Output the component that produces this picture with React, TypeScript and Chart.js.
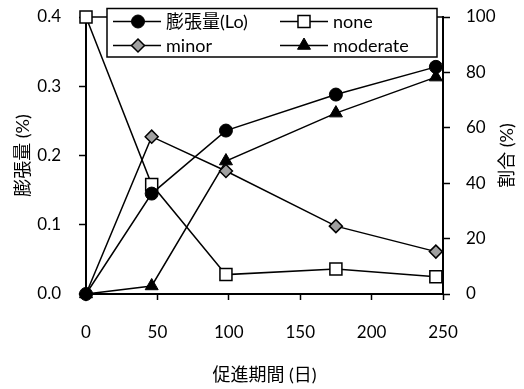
import React, { useEffect, useRef } from 'react';
import { Chart, registerables } from 'chart.js';

Chart.register(...registerables);

// ---- data ----
const days = [0, 46, 98, 175, 245];
const expansion = [0, 0.145, 0.236, 0.288, 0.328];
const noneRatio = [100, 39.5, 7, 9, 6.2];
const minorRatio = [0, 56.8, 44.4, 24.5, 15.3];
const moderateRatio = [0, 2.9, 48, 65.3, 78.3];
const seriesLabels = ['膨張量(Lo)', 'none', 'minor', 'moderate'];
const xTicks = [0, 50, 100, 150, 200, 250];
const leftTicks = [0, 0.1, 0.2, 0.3, 0.4];
const rightTicks = [0, 20, 40, 60, 80, 100];
const xTitle = '促進期間 (日)';
const leftTitle = '膨張量 (%)';
const rightTitle = '割合 (%)';

const FONT = "Lato, 'Noto Sans CJK JP', sans-serif";

function pts(vals: number[]) {
  return days.map((d, i) => ({ x: d, y: vals[i] }));
}

function drawMarker(ctx: CanvasRenderingContext2D, style: string, x: number, y: number, r: number, fill: string, bw: number) {
  ctx.save();
  ctx.fillStyle = fill;
  ctx.strokeStyle = '#000';
  ctx.lineWidth = bw;
  ctx.beginPath();
  if (style === 'circle') {
    ctx.arc(x, y, r, 0, Math.PI * 2);
  } else if (style === 'rect') {
    const s = Math.SQRT1_2 * r;
    ctx.rect(x - s, y - s, 2 * s, 2 * s);
  } else if (style === 'rectRot') {
    ctx.moveTo(x - r, y);
    ctx.lineTo(x, y - r);
    ctx.lineTo(x + r, y);
    ctx.lineTo(x, y + r);
    ctx.closePath();
  } else if (style === 'triangle') {
    const a = -Math.PI / 2;
    ctx.moveTo(x + Math.cos(a) * r, y + Math.sin(a) * r);
    ctx.lineTo(x + Math.cos(a + 2 * Math.PI / 3) * r, y + Math.sin(a + 2 * Math.PI / 3) * r);
    ctx.lineTo(x + Math.cos(a + 4 * Math.PI / 3) * r, y + Math.sin(a + 4 * Math.PI / 3) * r);
    ctx.closePath();
  }
  ctx.fill();
  ctx.stroke();
  ctx.restore();
}

const framePlugin = {
  id: 'frameTop',
  beforeDatasetsDraw(chart: any) {
    const { ctx, chartArea } = chart;
    ctx.save();
    ctx.strokeStyle = '#000';
    ctx.lineWidth = 1.5;
    ctx.beginPath();
    ctx.moveTo(chartArea.left, chartArea.top);
    ctx.lineTo(chartArea.right, chartArea.top);
    ctx.stroke();
    ctx.restore();
  },
};

const legendPlugin = {
  id: 'boxLegend',
  afterDraw(chart: any) {
    const ctx: CanvasRenderingContext2D = chart.ctx;
    ctx.save();
    const bx = 107, by = 8.5, bw = 330, bh = 48.5;
    ctx.fillStyle = '#fff';
    ctx.fillRect(bx, by, bw, bh);
    ctx.strokeStyle = '#000';
    ctx.lineWidth = 1.5;
    ctx.strokeRect(bx, by, bw, bh);
    const cols = [
      { x0: 113, x1: 161, mx: 138, tx: 166 },
      { x0: 280, x1: 328, mx: 304, tx: 333 },
    ];
    const rows = [21.5, 45.5];
    chart.data.datasets.forEach((ds: any, i: number) => {
      const c = cols[i % 2];
      const y = rows[Math.floor(i / 2)];
      ctx.strokeStyle = '#000';
      ctx.lineWidth = 1.5;
      ctx.beginPath();
      ctx.moveTo(c.x0, y);
      ctx.lineTo(c.x1, y);
      ctx.stroke();
      drawMarker(ctx, ds.pointStyle, c.mx, y, ds.pointRadius, ds.pointBackgroundColor, ds.pointBorderWidth);
      ctx.fillStyle = '#000';
      ctx.font = `18px ${FONT}`;
      ctx.textBaseline = 'middle';
      ctx.textAlign = 'left';
      ctx.fillText(ds.label, c.tx, y + 1);
    });
    ctx.restore();
  },
};

const rightTitlePlugin = {
  id: 'rightTitle',
  afterDraw(chart: any) {
    const { ctx, chartArea } = chart;
    ctx.save();
    ctx.translate(507, (chartArea.top + chartArea.bottom) / 2);
    ctx.rotate(-Math.PI / 2);
    ctx.fillStyle = '#000';
    ctx.font = `18px ${FONT}`;
    ctx.textAlign = 'center';
    ctx.textBaseline = 'middle';
    ctx.fillText(rightTitle, 0, 0);
    ctx.restore();
  },
};

export default function App() {
  const ref = useRef<HTMLCanvasElement>(null);
  useEffect(() => {
    if (!ref.current) return;
    Chart.defaults.color = '#000';
    const common = {
      borderColor: '#000',
      borderWidth: 1.5,
      pointBorderColor: '#000',
      pointBorderWidth: 1,
      tension: 0,
      clip: false as any,
    };
    const fitV = (w: number) => (s: any) => { s.width = w; s.paddingTop = 0; s.paddingBottom = 0; };
    const chart = new Chart(ref.current, {
      type: 'line',
      data: {
        datasets: [
          { ...common, label: seriesLabels[0], data: pts(expansion), yAxisID: 'y', pointStyle: 'circle', pointRadius: 6.5, pointBackgroundColor: '#000' },
          { ...common, label: seriesLabels[1], data: pts(noneRatio), yAxisID: 'y1', pointStyle: 'rect', pointRadius: 8.5, pointBackgroundColor: '#fff', pointBorderWidth: 1.5 },
          { ...common, label: seriesLabels[2], data: pts(minorRatio), yAxisID: 'y1', pointStyle: 'rectRot', pointRadius: 6.5, pointBackgroundColor: '#a0a0a0', pointBorderWidth: 1.5 },
          { ...common, label: seriesLabels[3], data: pts(moderateRatio), yAxisID: 'y1', pointStyle: 'triangle', pointRadius: 7.5, pointBackgroundColor: '#000' },
        ] as any,
      },
      options: {
        animation: false,
        responsive: false,
        layout: { padding: { top: 17, left: 0, right: 0, bottom: 0 } },
        plugins: { legend: { display: false }, tooltip: { enabled: false } },
        scales: {
          x: {
            type: 'linear',
            position: 'bottom',
            min: xTicks[0],
            max: xTicks[xTicks.length - 1],
            afterBuildTicks: (s: any) => { s.ticks = xTicks.map((v) => ({ value: v })); },
            ticks: { font: { size: 17, family: FONT }, color: '#000', padding: 22 },
            grid: { drawOnChartArea: false, drawTicks: true, tickLength: 6, tickColor: '#000', tickWidth: 1.5 },
            border: { color: '#000', width: 2 },
            title: { display: true, text: xTitle, color: '#000', font: { size: 18, family: FONT }, padding: { top: 0, bottom: 3 } },
            afterFit: (s: any) => { s.height = 95; s.paddingLeft = 0; s.paddingRight = 0; },
          },
          y: {
            type: 'linear',
            position: 'left',
            min: leftTicks[0],
            max: leftTicks[leftTicks.length - 1],
            afterBuildTicks: (s: any) => { s.ticks = leftTicks.map((v) => ({ value: v })); },
            ticks: { font: { size: 17, family: FONT }, color: '#000', padding: 18, callback: (v: any) => Number(v).toFixed(1) },
            grid: { drawOnChartArea: false, drawTicks: true, tickLength: 7, tickColor: '#000', tickWidth: 1.5 },
            border: { color: '#000', width: 2 },
            title: { display: true, text: leftTitle, color: '#000', font: { size: 18, family: FONT }, padding: { top: 12, bottom: 0 } },
            afterFit: fitV(86),
          },
          y1: {
            type: 'linear',
            position: 'right',
            min: rightTicks[0],
            max: rightTicks[rightTicks.length - 1],
            afterBuildTicks: (s: any) => { s.ticks = rightTicks.map((v) => ({ value: v })); },
            ticks: { font: { size: 17, family: FONT }, color: '#000', padding: 16 },
            grid: { drawOnChartArea: false, drawTicks: true, tickLength: 7, tickColor: '#000', tickWidth: 1.5 },
            border: { color: '#000', width: 2 },
            afterFit: fitV(81),
          },
        },
      } as any,
      plugins: [framePlugin, legendPlugin, rightTitlePlugin],
    });
    return () => chart.destroy();
  }, []);
  return (
    <div style={{ position: 'absolute', left: 0, top: 0, width: 524, height: 389, background: '#fff' }}>
      <canvas ref={ref} width={524} height={389} />
    </div>
  );
}
